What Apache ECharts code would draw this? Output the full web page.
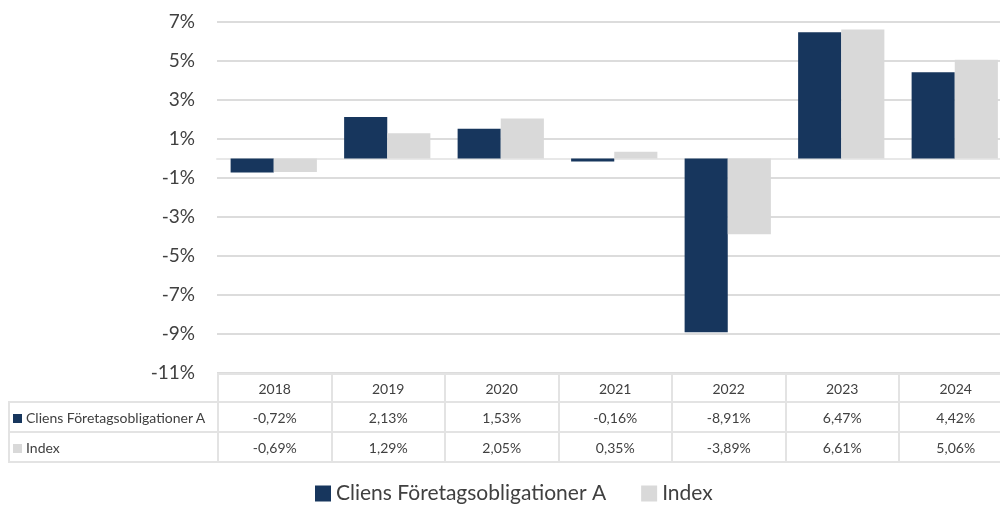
<!DOCTYPE html>
<html>
<head>
<meta charset="utf-8">
<script src="https://cdn.jsdelivr.net/npm/echarts@6/dist/echarts.min.js"></script>
<style>
  body { margin: 0; background: #fff; }
  #wrap { position: relative; width: 1000px; height: 509px; overflow: hidden; }
  #main { position: absolute; left: 0; top: 0; width: 1000px; height: 509px; }
  #tbl { position: absolute; left: 8px; top: 373px; width: 1004px; border-collapse: collapse; table-layout: fixed;
         font-family: Lato, sans-serif; font-size: 14px; color: #404040; }
  #tbl td { border: 2px solid #e3e3e3; text-align: center; padding: 0; }
  #tbl td.lbl { text-align: left; padding-left: 3px; white-space: nowrap; }
  #tbl td.blank { border: none; border-right: 2px solid #e3e3e3; }
  .sq { display: inline-block; width: 9px; height: 9px; margin-right: 4px; vertical-align: 0px; }
</style>
</head>
<body>
<div id="wrap">
  <div id="main"></div>
  <table id="tbl"></table>
</div>
<script>
var years = ['2018', '2019', '2020', '2021', '2022', '2023', '2024'];
var fundName = 'Cliens Företagsobligationer A';
var indexName = 'Index';
var fund = [-0.72, 2.13, 1.53, -0.16, -8.91, 6.47, 4.42];
var index = [-0.69, 1.29, 2.05, 0.35, -3.89, 6.61, 5.06];
var navy = '#17365d';
var grey = '#d9d9d9';

function pct(v) {
    return v.toFixed(2).replace('.', ',') + '%';
}

// tabellen under diagrammet
var tbl = document.getElementById('tbl');
var colW = 113.5;
var html = '<colgroup><col style="width:209px">';
for (var i = 0; i < years.length; i++) html += '<col style="width:' + colW + 'px">';
html += '</colgroup>';
html += '<tr style="height:28px"><td class="blank"></td>';
for (var i = 0; i < years.length; i++) html += '<td>' + years[i] + '</td>';
html += '</tr>';
var rows = [[fundName, fund, navy], [indexName, index, grey]];
for (var r = 0; r < rows.length; r++) {
    html += '<tr style="height:30px"><td class="lbl"><span class="sq" style="background:' + rows[r][2] + '"></span>' + rows[r][0] + '</td>';
    for (var i = 0; i < years.length; i++) html += '<td>' + pct(rows[r][1][i]) + '</td>';
    html += '</tr>';
}
tbl.innerHTML = html;

var myChart = echarts.init(document.getElementById('main'));
var option = {
    animation: false,
    textStyle: { fontFamily: 'Lato, sans-serif' },
    grid: {
        left: 217,
        width: 794.5,
        top: 22,
        bottom: 136,
        containLabel: false,
        outerBoundsMode: 'none'
    },
    legend: {
        bottom: 0,
        left: 310,
        itemWidth: 16,
        itemHeight: 16,
        itemGap: 35,
        icon: 'rect',
        textStyle: { fontSize: 21, color: '#404040' },
        data: [fundName, indexName]
    },
    xAxis: {
        type: 'category',
        data: years,
        axisLabel: { show: false },
        axisTick: { show: false },
        axisLine: { onZero: true, lineStyle: { color: '#e8e8e8', width: 2 } }
    },
    yAxis: {
        type: 'value',
        min: -11,
        max: 7,
        interval: 2,
        axisLabel: {
            formatter: function (v) { return v + '%'; },
            fontSize: 19,
            color: '#404040',
            margin: 22
        },
        axisLine: { show: false },
        axisTick: { show: false },
        splitLine: { lineStyle: { color: '#d0d0d0', width: 1.5 } }
    },
    series: [
        {
            name: fundName,
            type: 'bar',
            data: fund,
            barGap: '0%',
            barCategoryGap: '24%',
            itemStyle: { color: navy }
        },
        {
            name: indexName,
            type: 'bar',
            data: index,
            itemStyle: { color: grey }
        }
    ]
};
myChart.setOption(option);
</script>
</body>
</html>
